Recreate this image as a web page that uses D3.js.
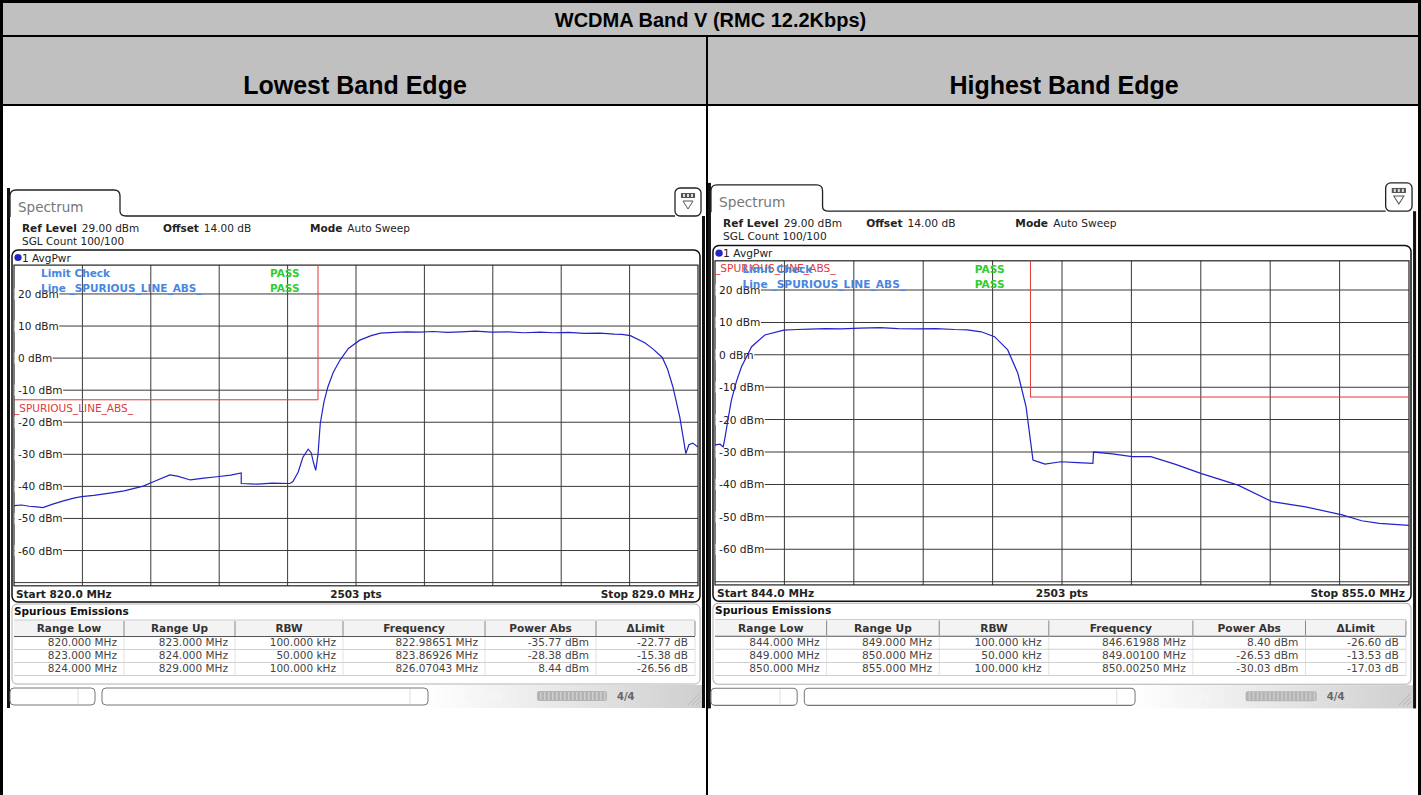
<!DOCTYPE html>
<meta charset="utf-8">
<style>
    body { margin: 0; background: #fff; }
    svg { display: block; }
    .hdr { font-family: "Liberation Sans", Arial, sans-serif; font-weight: bold; fill: #000; }
    .rs { font-family: "DejaVu Sans", Verdana, sans-serif; font-size: 10.5px; fill: #222; }
    .rs .b { font-weight: bold; }
    .grid line { stroke: #3a3a3a; stroke-width: 1px; }
    .trace { fill: none; stroke: #2323c8; stroke-width: 1.2px; }
    .limit { fill: none; stroke: #e03a3a; stroke-width: 1px; }
</style>
<svg width="1421" height="795"></svg>
<script src="https://d3js.org/d3.v7.min.js"></script>
<script>

    var title = "WCDMA Band V (RMC 12.2Kbps)",
        panelTitles = ["Lowest Band Edge", "Highest Band Edge"];

    var yTicks = [20, 10, 0, -10, -20, -30, -40, -50, -60],
        yGrid = [20, 10, 0, -10, -20, -30, -40, -50, -60, -70];

    // lowest band edge trace, 820 - 829 MHz
    var lowFreq = [820.00, 820.10, 820.20, 820.30, 820.38, 820.50, 820.65, 820.80, 820.89, 821.05,
        821.26, 821.45, 821.70, 821.85, 822.05, 822.15, 822.32, 822.50, 822.67, 822.85,
        822.99, 822.99, 823.20, 823.40, 823.63, 823.67, 823.74, 823.80, 823.87, 823.91,
        823.94, 823.97, 824.00, 824.03, 824.08, 824.13, 824.20, 824.29, 824.40, 824.55,
        824.70, 824.82, 825.00, 825.17, 825.34, 825.52, 825.70, 825.88, 826.07, 826.28,
        826.50, 826.71, 826.92, 827.10, 827.30, 827.50, 827.71, 827.90, 828.00, 828.11,
        828.30, 828.41, 828.53, 828.60, 828.67, 828.76, 828.84, 828.88, 828.93, 829.00];
    var lowLevel = [-46.0, -45.8, -46.2, -46.4, -46.6, -45.6, -44.5, -43.6, -43.2, -42.8,
        -42.1, -41.4, -39.9, -38.4, -36.4, -36.8, -38.0, -37.4, -37.0, -36.5,
        -35.8, -39.1, -39.3, -39.0, -39.1, -38.5, -35.5, -31.0, -28.4, -29.5,
        -32.5, -35.0, -30.0, -20.3, -13.5, -9.0, -4.5, -0.6, 3.0, 5.6,
        7.0, 7.8, 8.0, 8.2, 8.1, 8.3, 8.0, 8.2, 8.44, 8.1,
        8.2, 7.9, 8.1, 7.9, 8.0, 7.7, 7.8, 7.5, 7.4, 7.0,
        4.8, 2.8, 0.2, -3.5, -9.0, -18.3, -29.8, -27.0, -26.5, -27.7];
    var lowLimitFreq = [820, 824, 824],
        lowLimitLevel = [-13, -13, 40];

    // highest band edge trace, 844 - 855 MHz
    var highFreq = [844.00, 844.08, 844.13, 844.16, 844.21, 844.26, 844.34, 844.42, 844.58, 844.79,
        845.09, 845.30, 845.50, 845.75, 846.00, 846.30, 846.62, 846.90, 847.20, 847.50,
        847.80, 848.00, 848.22, 848.43, 848.64, 848.80, 848.93, 849.00, 849.04, 849.15,
        849.23, 849.48, 849.75, 849.99, 850.00, 850.30, 850.61, 850.91, 851.30, 851.70,
        852.29, 852.83, 853.36, 853.94, 854.25, 854.53, 855.00];
    var highLevel = [-27.8, -27.6, -28.4, -25.3, -19.5, -14.0, -8.2, -3.7, 2.5, 6.1,
        7.6, 7.8, 7.9, 8.1, 8.0, 8.2, 8.40, 8.1, 8.0, 8.1,
        7.8, 7.7, 7.1, 5.6, 1.5, -5.7, -16.0, -26.5, -32.5, -33.2,
        -33.7, -33.0, -33.3, -33.5, -30.0, -30.6, -31.4, -31.4, -33.8, -36.6,
        -40.2, -45.3, -46.9, -49.4, -51.2, -52.0, -52.6];
    var highLimitFreq = [849, 849, 855],
        highLimitLevel = [40, -13, -13];

    var tableHead = ["Range Low", "Range Up", "RBW", "Frequency", "Power Abs", "\u0394Limit"];
    var lowRows = [
        ["820.000 MHz", "823.000 MHz", "100.000 kHz", "822.98651 MHz", "-35.77 dBm", "-22.77 dB"],
        ["823.000 MHz", "824.000 MHz", "50.000 kHz", "823.86926 MHz", "-28.38 dBm", "-15.38 dB"],
        ["824.000 MHz", "829.000 MHz", "100.000 kHz", "826.07043 MHz", "8.44 dBm", "-26.56 dB"]
    ];
    var highRows = [
        ["844.000 MHz", "849.000 MHz", "100.000 kHz", "846.61988 MHz", "8.40 dBm", "-26.60 dB"],
        ["849.000 MHz", "850.000 MHz", "50.000 kHz", "849.00100 MHz", "-26.53 dBm", "-13.53 dB"],
        ["850.000 MHz", "855.000 MHz", "100.000 kHz", "850.00250 MHz", "-30.03 dBm", "-17.03 dB"]
    ];

    var svg = d3.select("svg");
    var defs = svg.append("defs");

    var grad = defs.append("linearGradient").attr("id", "statusGrad");
    grad.append("stop").attr("offset", "0%").attr("stop-color", "#ffffff");
    grad.append("stop").attr("offset", "60%").attr("stop-color", "#ffffff");
    grad.append("stop").attr("offset", "100%").attr("stop-color", "#cfcfcf");

    // outer table
    svg.append("rect").attr("x", 3).attr("y", 3).attr("width", 1415).attr("height", 32).attr("fill", "#c0c0c0");
    svg.append("rect").attr("x", 3).attr("y", 37).attr("width", 1415).attr("height", 67).attr("fill", "#c0c0c0");
    [[0, 0, 1421, 3], [0, 0, 3, 795], [1418, 0, 3, 795], [0, 35, 1421, 2], [0, 104, 1421, 2], [706, 37, 2, 758]]
        .forEach(function (r) {
            svg.append("rect").attr("x", r[0]).attr("y", r[1]).attr("width", r[2]).attr("height", r[3]).attr("fill", "#000");
        });

    svg.append("text").attr("class", "hdr").attr("x", 710.5).attr("y", 27)
        .attr("text-anchor", "middle").style("font-size", "20px").text(title);
    svg.selectAll(".ptitle").data(panelTitles).enter().append("text")
        .attr("class", "hdr ptitle")
        .attr("x", function (d, i) { return i ? 1064 : 355; })
        .attr("y", 94).attr("text-anchor", "middle").style("font-size", "25px")
        .text(function (d) { return d; });

    drawPanel(svg.append("g"), {
        id: "low", start: 820, stop: 829,
        freq: lowFreq, level: lowLevel,
        limitFreq: lowLimitFreq, limitLevel: lowLimitLevel,
        limitLabelY: 412, rows: lowRows
    });
    drawPanel(svg.append("g").attr("transform", "translate(700.8,-7.1) scale(1.0146,1.0106)"), {
        id: "high", start: 844, stop: 855,
        freq: highFreq, level: highLevel,
        limitFreq: highLimitFreq, limitLevel: highLimitLevel,
        limitLabelY: 276, rows: highRows
    });

    function drawPanel(g, p) {
        var x = d3.scaleLinear().domain([p.start, p.stop]).range([14, 698]),
            y = d3.scaleLinear().domain([-71, 29]).range([585.8, 265.1]);
        var top = y(29), bottom = y(-71);

        g.attr("class", "rs");

        // bezel edges of the screenshot
        g.append("rect").attr("x", 7).attr("y", 188).attr("width", 3).attr("height", 520).attr("fill", "#111");
        g.append("rect").attr("x", 702).attr("y", 216).attr("width", 3).attr("height", 492).attr("fill", "#111");

        // tab
        g.append("path")
            .attr("d", "M10,217V196Q10,190 16,190H114Q120,190 120,196V211Q120,216 126,216H675")
            .attr("fill", "none").attr("stroke", "#222").attr("stroke-width", 1.3);
        g.append("text").attr("x", 18).attr("y", 212).style("font-size", "13.5px").style("fill", "#777").text("Spectrum");

        // menu icon
        g.append("rect").attr("x", 675).attr("y", 188).attr("width", 26).attr("height", 28).attr("rx", 5)
            .attr("fill", "#fff").attr("stroke", "#222").attr("stroke-width", 1.3);
        g.append("rect").attr("x", 681).attr("y", 193).attr("width", 14).attr("height", 5).attr("fill", "#555");
        [684, 688, 692].forEach(function (v) {
            g.append("rect").attr("x", v - 1).attr("y", 194).attr("width", 2).attr("height", 3).attr("fill", "#ddd");
        });
        g.append("path").attr("d", "M683,201H693L688,209Z").attr("fill", "none").attr("stroke", "#555");

        // settings
        var t1 = g.append("text").attr("x", 22).attr("y", 232);
        t1.append("tspan").attr("class", "b").text("Ref Level");
        t1.append("tspan").attr("dx", 5).text("29.00 dBm");
        t1.append("tspan").attr("class", "b").attr("x", 163).text("Offset");
        t1.append("tspan").attr("dx", 5).text("14.00 dB");
        t1.append("tspan").attr("class", "b").attr("x", 310).text("Mode");
        t1.append("tspan").attr("dx", 5).text("Auto Sweep");
        g.append("text").attr("x", 22).attr("y", 245).text("SGL Count 100/100");

        // diagram frame
        g.append("rect").attr("x", 12).attr("y", 250).attr("width", 688).attr("height", 352).attr("rx", 6)
            .attr("fill", "#fff").attr("stroke", "#111").attr("stroke-width", 1.5);
        g.append("circle").attr("cx", 18).attr("cy", 257.5).attr("r", 3.6).attr("fill", "#2323c8");
        g.append("text").attr("x", 22).attr("y", 261.5).text("1 AvgPwr");

        var clipId = "clip-" + p.id;
        g.append("clipPath").attr("id", clipId).append("rect")
            .attr("x", 14).attr("y", top).attr("width", 684).attr("height", bottom - top);

        // grid
        var grid = g.append("g").attr("class", "grid");
        var vLines = d3.range(1, 10).map(function (i) { return p.start + i * (p.stop - p.start) / 10; });
        grid.selectAll(".v").data(vLines).enter().append("line")
            .attr("x1", function (d) { return x(d); }).attr("x2", function (d) { return x(d); })
            .attr("y1", top).attr("y2", bottom);
        grid.selectAll(".h").data(yGrid).enter().append("line")
            .attr("x1", 14).attr("x2", 698)
            .attr("y1", function (d) { return y(d); }).attr("y2", function (d) { return y(d); });
        g.append("rect").attr("x", 14).attr("y", top).attr("width", 684).attr("height", bottom - top)
            .attr("fill", "none").attr("stroke", "#222").attr("stroke-width", 1.2);

        // level labels, with a blank behind so the grid line starts after the text
        var lab = g.append("g").selectAll("g").data(yTicks).enter().append("g");
        lab.append("rect").attr("x", 14.5).attr("height", 11)
            .attr("y", function (d) { return y(d) - 5.5; }).attr("fill", "#fff");
        lab.append("text").attr("x", 18).attr("y", function (d) { return y(d) + 4; })
            .text(function (d) { return d + " dBm"; });
        lab.each(function () {
            var s = d3.select(this);
            s.select("rect").attr("width", s.select("text").node().getComputedTextLength() + 4);
        });

        // limit line
        var limitPts = p.limitFreq.map(function (f, i) { return [f, p.limitLevel[i]]; });
        g.append("path").attr("class", "limit").attr("clip-path", "url(#" + clipId + ")")
            .attr("d", d3.line().x(function (d) { return x(d[0]); }).y(function (d) { return y(d[1]); })(limitPts));
        g.append("text").attr("x", 14).attr("y", p.limitLabelY).style("fill", "#e03a3a").text("_SPURIOUS_LINE_ABS_");

        // limit check
        g.append("text").attr("class", "b").attr("x", 41).attr("y", 277).style("fill", "#4a86e0").text("Limit Check");
        g.append("text").attr("class", "b").attr("x", 41).attr("y", 292).style("fill", "#4a86e0").text("Line _SPURIOUS_LINE_ABS_");
        g.append("text").attr("class", "b").attr("x", 270).attr("y", 277).style("fill", "#33cc33").text("PASS");
        g.append("text").attr("class", "b").attr("x", 270).attr("y", 292).style("fill", "#33cc33").text("PASS");

        // trace
        var pts = p.freq.map(function (f, i) { return [f, p.level[i]]; });
        g.append("path").attr("class", "trace").attr("clip-path", "url(#" + clipId + ")")
            .attr("d", d3.line().x(function (d) { return x(d[0]); }).y(function (d) { return y(d[1]); })(pts));

        // sweep footer
        g.append("text").attr("class", "b").attr("x", 16).attr("y", 598).text("Start " + p.start.toFixed(1) + " MHz");
        g.append("text").attr("class", "b").attr("x", 356).attr("y", 598).attr("text-anchor", "middle").text("2503 pts");
        g.append("text").attr("class", "b").attr("x", 694).attr("y", 598).attr("text-anchor", "end").text("Stop " + p.stop.toFixed(1) + " MHz");

        // result table
        var cols = [14, 124, 235, 343, 485, 596, 695];
        g.append("rect").attr("x", 12).attr("y", 604).attr("width", 688).attr("height", 80).attr("rx", 5)
            .attr("fill", "#fff").attr("stroke", "#b0b0b0");
        g.append("text").attr("class", "b").attr("x", 14).attr("y", 615).style("fill", "#111").text("Spurious Emissions");
        g.append("rect").attr("x", 14).attr("y", 620).attr("width", 681).attr("height", 16).attr("fill", "#f3f3f3");
        g.append("line").attr("x1", 14).attr("x2", 695).attr("y1", 636.5).attr("y2", 636.5).attr("stroke", "#555");
        g.append("line").attr("x1", 14).attr("x2", 695).attr("y1", 620).attr("y2", 620).attr("stroke", "#ccc");
        cols.slice(1).forEach(function (c) {
            g.append("line").attr("x1", c).attr("x2", c).attr("y1", 621).attr("y2", 636).attr("stroke", "#888");
            g.append("line").attr("x1", c).attr("x2", c).attr("y1", 637).attr("y2", 676).attr("stroke", "#e2e2e2");
        });
        tableHead.forEach(function (h, i) {
            g.append("text").attr("class", "b").attr("x", (cols[i] + cols[i + 1]) / 2).attr("y", 632)
                .attr("text-anchor", "middle").style("fill", "#333").text(h);
        });
        p.rows.forEach(function (row, r) {
            var ry = 646 + r * 13;
            g.append("line").attr("x1", 14).attr("x2", 695).attr("y1", ry + 3.5).attr("y2", ry + 3.5).attr("stroke", "#cfcfcf");
            row.forEach(function (v, i) {
                g.append("text").attr("x", cols[i + 1] - 7).attr("y", ry).attr("text-anchor", "end")
                    .style("fill", "#444").text(v);
            });
        });

        // status bar
        g.append("rect").attr("x", 10).attr("y", 685).attr("width", 692).attr("height", 23).attr("fill", "url(#statusGrad)");
        [[10, 85, 78], [102, 326, 410]].forEach(function (b) {
            g.append("rect").attr("x", b[0]).attr("y", 688).attr("width", b[1]).attr("height", 17).attr("rx", 4)
                .attr("fill", "#fff").attr("stroke", "#777");
            g.append("line").attr("x1", b[2]).attr("x2", b[2]).attr("y1", 689).attr("y2", 704).attr("stroke", "#ddd");
        });
        g.append("text").attr("class", "b").attr("x", 466).attr("y", 700).style("fill", "#f6f6f6").text("Ready");
        g.append("rect").attr("x", 537).attr("y", 691).attr("width", 70).attr("height", 10).attr("rx", 2).attr("fill", "#b4b4b4");
        d3.range(540, 606, 4).forEach(function (v) {
            g.append("rect").attr("x", v).attr("y", 692).attr("width", 1.5).attr("height", 8).attr("fill", "#cdcdcd");
        });
        g.append("text").attr("class", "b").attr("x", 617).attr("y", 700).style("fill", "#666").style("font-size", "10px").text("4/4");
        [0, 4, 8].forEach(function (o) {
            g.append("line").attr("x1", 688 + o).attr("y1", 705).attr("x2", 700).attr("y2", 693 + o)
                .attr("stroke", "#bbb");
        });
    }

</script>
